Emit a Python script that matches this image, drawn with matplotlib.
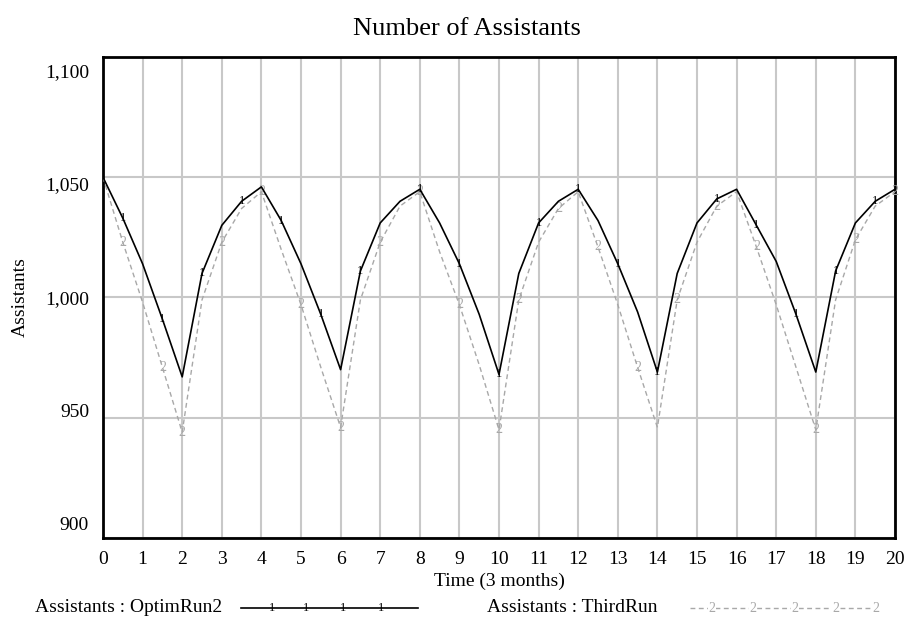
import numpy as np
import matplotlib
matplotlib.use("Agg")
import matplotlib.pyplot as plt
from matplotlib.lines import Line2D
from matplotlib.transforms import ScaledTranslation

plt.rcParams['font.family'] = ['Liberation Serif', 'DejaVu Serif']

# ---- data (time step 0.5) ----
time = np.arange(0, 20.5, 0.5)
optim_run2 = [1050, 1033, 1014, 991, 967, 1010, 1030, 1040, 1046,
              1032, 1014, 993, 970, 1011, 1031, 1040, 1045,
              1031, 1014, 993, 968, 1010, 1031, 1040, 1045,
              1032, 1014, 994, 969, 1010, 1031, 1041, 1045,
              1030, 1015, 993, 969, 1011, 1031, 1040, 1045]
third_run = [1050, 1023, 998, 971, 944, 999, 1023, 1037, 1044,
             1020, 997, 971, 946, 999, 1023, 1038, 1044,
             1019, 997, 972, 945, 999, 1023, 1037, 1044,
             1021, 997, 971, 946, 999, 1023, 1038, 1044,
             1021, 997, 971, 945, 999, 1024, 1038, 1044]
x_ticks = list(range(0, 21))
y_ticks = [900, 950, 1000, 1050, 1100]
y_tick_labels = ["900", "950", "1,000", "1,050", "1,100"]

# marker placement (times along each line)
marks1 = [0.5, 1.5, 2.5, 3.5, 4.5, 5.5, 6.5, 8, 9, 10, 11, 12, 13, 14,
          15.5, 16.5, 17.5, 18.5, 19.5]
marks2 = [0.5, 1.5, 2, 3, 4, 5, 6, 7, 8, 9, 10, 10.5, 11.5, 12.5, 13.5,
          14.5, 15.5, 16.5, 18, 19, 20]

W, H = 906, 624
fig = plt.figure(figsize=(W / 100, H / 100), dpi=100)
ax = fig.add_axes([103 / W, (H - 538) / H, (895 - 103) / W, (538 - 57) / H])

gray = '#a8a8a8'
ax.plot(time, third_run, color=gray, lw=1.0, ls=(0, (3.5, 2.5)), zorder=3)
ax.plot(time, optim_run2, color='black', lw=1.2, zorder=4)

for t in marks2:
    v = np.interp(t, time, third_run)
    ax.text(t, v, "2", color=gray, fontsize=10, ha='center', va='center', zorder=3)
for t in marks1:
    v = np.interp(t, time, optim_run2)
    ax.text(t, v, "1", color='black', fontsize=9, ha='center', va='center', zorder=5)

ax.set_xlim(0, 20)
ax.set_ylim(900, 1100)
ax.set_xticks(x_ticks)
ax.set_yticks(y_ticks)
ax.set_yticklabels(y_tick_labels)
ax.tick_params(length=0, labelsize=14)
ax.tick_params(axis='x', pad=9)
ax.tick_params(axis='y', pad=10)
ax.grid(True, color='#c8c8c8', lw=1.5)
ax.set_axisbelow(True)
for s in ax.spines.values():
    s.set_linewidth(2)
    s.set_color('black')

# y tick labels in the reference sit slightly compressed toward the centre
offsets_px = {900: 15, 950: 7, 1000: 0, 1050: -6, 1100: -14}
for val, lab in zip(y_ticks, ax.get_yticklabels()):
    dy = offsets_px[val] / 100.0
    lab.set_transform(lab.get_transform() + ScaledTranslation(0, dy, fig.dpi_scale_trans))

ax.set_xlabel("Time (3 months)", fontsize=14, labelpad=4)
fig.text(20 / W, (H - 297) / H, "Assistants", fontsize=14, rotation=90,
         ha='center', va='center')
fig.text(467 / W, (H - 29) / H, "Number of Assistants", fontsize=19,
         ha='center', va='center')

# ---- legend at bottom ----
ly = (H - 608) / H
fig.text(35 / W, ly, "Assistants : OptimRun2", fontsize=14, ha='left', va='center')
fig.add_artist(Line2D([241 / W, 418 / W], [ly, ly], color='black', lw=1.2,
                      transform=fig.transFigure))
for x in [272, 306, 343, 381]:
    fig.text(x / W, ly, "1", fontsize=9, ha='center', va='center')
fig.text(487 / W, ly, "Assistants : ThirdRun", fontsize=14, ha='left', va='center')
fig.add_artist(Line2D([690 / W, 880 / W], [ly, ly], color=gray, lw=1.0,
                      ls=(0, (3.5, 2.5)), transform=fig.transFigure))
for x in [712, 753, 795, 836, 876]:
    fig.text(x / W, ly, "2", fontsize=10, color=gray, ha='center', va='center',
             bbox=dict(facecolor='white', edgecolor='none', pad=0.5))

fig.savefig("out.png", dpi=100)
